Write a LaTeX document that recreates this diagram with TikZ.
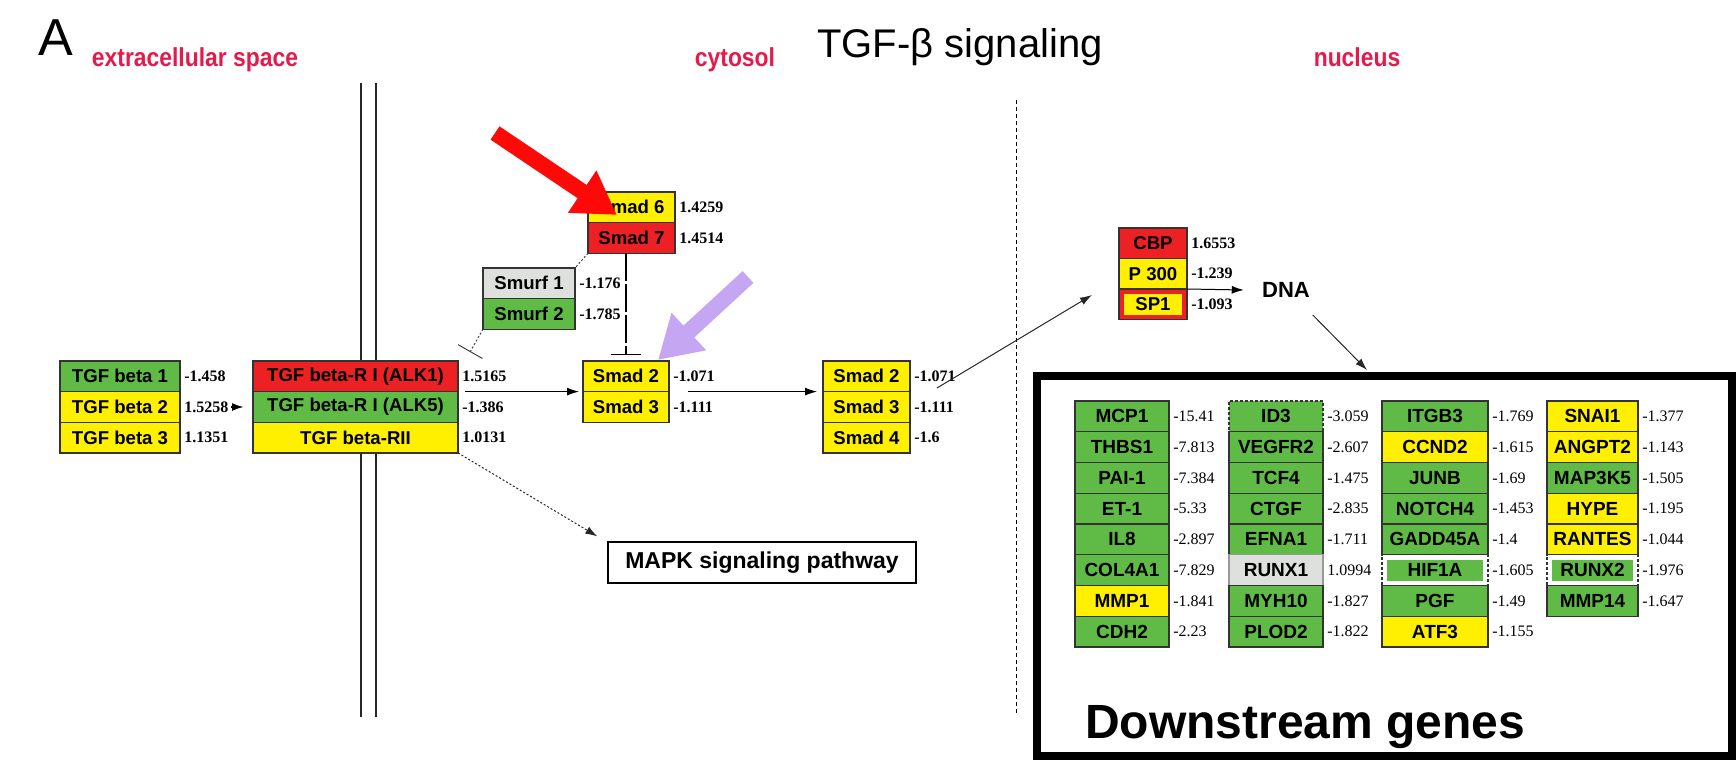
\documentclass[tikz,border=0pt]{standalone}
\usepackage{fontspec}
\setmainfont{Liberation Sans}
\newfontfamily\numfont{Liberation Serif}
\newfontfamily\narrowfont[FakeStretch=0.88]{Liberation Sans}
\usetikzlibrary{arrows.meta}
\definecolor{kgreen}{RGB}{96,187,70}
\definecolor{kyellow}{RGB}{255,240,0}
\definecolor{kred}{RGB}{237,32,36}
\definecolor{kgray}{RGB}{221,224,221}
\definecolor{kcrimson}{RGB}{228,26,74}
\definecolor{kpointer}{RGB}{255,8,8}
\definecolor{klilac}{RGB}{196,166,242}
\tikzset{
  box/.style={draw=black!80, line width=0.7pt, inner sep=0pt, outer sep=0pt, anchor=north west,
    minimum height=15.3pt, font=\fontsize{9.3}{10}\selectfont\bfseries},
  gn/.style={fill=kgreen}, yl/.style={fill=kyellow}, rd/.style={fill=kred}, gy/.style={fill=kgray},
  inset/.style n args={2}{fill=#1, path picture={\fill[#2]
    ([shift={(2.5pt,-2.5pt)}]path picture bounding box.north west) rectangle
    ([shift={(-2.5pt,2.5pt)}]path picture bounding box.south east);}},
  dbox/.style={dash pattern=on 1.5pt off 1pt},
  pval/.style={font=\numfont\bfseries\fontsize{8}{9}\selectfont, inner sep=2pt},
  gval/.style={font=\numfont\fontsize{8}{9}\selectfont, inner sep=2pt},
  gene/.style={box, minimum height=15.4pt, font=\fontsize{9.5}{10}\selectfont\bfseries},
  colA/.style={gene, minimum width=47pt},
  colB/.style={gene, minimum width=47pt},
  colC/.style={gene, minimum width=53pt},
  colD/.style={gene, minimum width=45.5pt},
  region/.style={font=\narrowfont\fontsize{13}{14}\selectfont\bfseries, text=kcrimson, anchor=base},
  arr/.style={-{Latex[length=6pt,width=4pt]}, line width=0.5pt},
  dotline/.style={line width=0.5pt, black!75, dash pattern=on 1pt off 1pt},
  pointer/.style={line width=8pt, -{Triangle[length=21pt,width=24pt]}}
}
\begin{document}
\begin{tikzpicture}[x=0.5pt, y=-0.5pt]
    \useasboundingbox (0,0) rectangle (1736,760);
    % headings
    \node[font=\fontsize{26}{28}\selectfont] (panel) at (56,38) {A};
    \node[region] (extra) at (195,66) {extracellular space};
    \node[region] (cyto) at (735,66) {cytosol};
    \node[region] (nucl) at (1357,66) {nucleus};
    \node[font=\fontsize{20}{22}\selectfont, anchor=base] (title) at (960,57) {TGF-β signaling};
    % membrane and nuclear border
    \draw[line width=0.8pt, black!85] (361,83) -- (361,717);
    \draw[line width=0.8pt, black!85] (376,83) -- (376,717);
    \draw[line width=0.5pt, dash pattern=on 2pt off 1.5pt] (1016,100) -- (1016,714);
    % ligands and receptors
    \node[box, gn, minimum width=60pt, label={[pval]right:-1.458}] (tgf1) at (60,361) {TGF beta 1};
    \node[box, yl, minimum width=60pt, label={[pval]right:1.5258}] (tgf2) at (60,391.7) {TGF beta 2};
    \node[box, yl, minimum width=60pt, label={[pval]right:1.1351}] (tgf3) at (60,422.3) {TGF beta 3};
    \node[box, rd, minimum width=102.5pt, label={[pval]right:1.5165}] (rec1) at (253,361) {TGF beta-R I (ALK1)};
    \node[box, gn, minimum width=102.5pt, label={[pval]right:-1.386}] (rec2) at (253,391.7) {TGF beta-R I (ALK5)};
    \node[box, yl, minimum width=102.5pt, label={[pval]right:1.0131}] (rec3) at (253,422.3) {TGF beta-RII};
    % cytosol
    \node[box, yl, minimum width=43.5pt, label={[pval]right:1.4259}] (smad6) at (588,192) {Smad 6};
    \node[box, rd, minimum width=43.5pt, label={[pval]right:1.4514}] (smad7) at (588,222.6) {Smad 7};
    \node[box, gy, minimum width=46pt, label={[pval]right:-1.176}] (smurf1) at (483,268) {Smurf 1};
    \node[box, gn, minimum width=46pt, label={[pval]right:-1.785}] (smurf2) at (483,298.6) {Smurf 2};
    \node[box, yl, minimum width=43pt, label={[pval]right:-1.071}] (smadA) at (583,361) {Smad 2};
    \node[box, yl, minimum width=43pt, label={[pval]right:-1.111}] (smadB) at (583,391.6) {Smad 3};
    \node[box, yl, minimum width=43.5pt, label={[pval]right:-1.071}] (smadC) at (823,361) {Smad 2};
    \node[box, yl, minimum width=43.5pt, label={[pval]right:-1.111}] (smadD) at (823,391.6) {Smad 3};
    \node[box, yl, minimum width=43.5pt, label={[pval]right:-1.6}] (smadE) at (823,422.2) {Smad 4};
    \node[draw, line width=0.6pt, minimum width=154pt, minimum height=20.5pt, font=\fontsize{11.5}{12}\selectfont\bfseries] (mapk) at (762,562.5) {MAPK signaling pathway};
    % nucleus
    \node[box, rd, minimum width=34pt, label={[pval]right:1.6553}] (cbp) at (1119,228) {CBP};
    \node[box, yl, minimum width=34pt, label={[pval]right:-1.239}] (p300) at (1119,258.5) {P 300};
    \node[box, inset={kred}{kyellow}, minimum width=34pt, label={[pval]right:-1.093}] (sp1) at (1119,289) {SP1};
    \node[font=\fontsize{11}{12}\selectfont\bfseries, inner sep=0pt] (dna) at (1286,290) {DNA};
    % connectors
    \draw[arr, line width=1pt] ([xshift=25.5pt]tgf2.east) -- ([xshift=-4.5pt]rec2.west);
    \draw[arr] ([xshift=3.5pt]rec1.south east) -- ([xshift=-2pt]smadA.south west);
    \draw[arr] ([xshift=9.5pt]smadA.south east) -- ([xshift=-3pt]smadC.south west);
    \draw[arr, black!85] ([shift={(13.5pt,1.8pt)}]smadC.south east) -- ([shift={(-13.5pt,-3pt)}]sp1.north west);
    \draw[arr] (sp1.north east) -- ([xshift=-9pt]dna.west);
    \draw[line width=0.7pt, dash pattern=on 14pt off 1.5pt, -{Bar[width=15pt]}, shorten >=3pt] (smadA.north |- smad7.south) -- (smadA.north);
    \draw[dotline] (smad7.south west) -- (smurf1.north east);
    \draw[dotline, -{Bar[width=14pt]}] (smurf2.south west) -- ([shift={(6pt,4.5pt)}]rec1.north east);
    \draw[arr, dotline, black!85] (rec3.south east) -- ([shift={(-5pt,2.5pt)}]mapk.north west);
    % downstream genes
    \node[draw, line width=4pt, minimum width=347.5pt, minimum height=190pt, inner sep=0pt, outer sep=0pt] (genes) at (1384.5,566) {};
    \draw[arr, black!85] ([shift={(1.25pt,-8.5pt)}]dna.south east) -- ([shift={(-8.75pt,3pt)}]genes.north);
    \node[font=\fontsize{24}{26}\selectfont\bfseries, anchor=base west] (genestitle) at (1078,738) {Downstream genes};
    \node[colA, gn, label={[gval]right:-15.41}] (mcp1) at (1075,401) {MCP1};
    \node[colA, gn, label={[gval]right:-7.813}] (thbs1) at (1075,431.75) {THBS1};
    \node[colA, gn, label={[gval]right:-7.384}] (pai1) at (1075,462.5) {PAI-1};
    \node[colA, gn, label={[gval]right:-5.33}] (et1) at (1075,493.25) {ET-1};
    \node[colA, gn, label={[gval]right:-2.897}] (il8) at (1075,524) {IL8};
    \node[colA, gn, label={[gval]right:-7.829}] (col4a1) at (1075,554.75) {COL4A1};
    \node[colA, yl, label={[gval]right:-1.841}] (mmp1) at (1075,585.5) {MMP1};
    \node[colA, gn, label={[gval]right:-2.23}] (cdh2) at (1075,616.25) {CDH2};
    \node[colB, gn, dbox, label={[gval]right:-3.059}] (id3) at (1229,401) {ID3};
    \node[colB, gn, label={[gval]right:-2.607}] (vegfr2) at (1229,431.75) {VEGFR2};
    \node[colB, gn, label={[gval]right:-1.475}] (tcf4) at (1229,462.5) {TCF4};
    \node[colB, gn, label={[gval]right:-2.835}] (ctgf) at (1229,493.25) {CTGF};
    \node[colB, gn, label={[gval]right:-1.711}] (efna1) at (1229,524) {EFNA1};
    \node[colB, gy, draw=black!40, label={[gval]right:1.0994}] (runx1) at (1229,554.75) {RUNX1};
    \node[colB, gn, label={[gval]right:-1.827}] (myh10) at (1229,585.5) {MYH10};
    \node[colB, gn, label={[gval]right:-1.822}] (plod2) at (1229,616.25) {PLOD2};
    \node[colC, gn, label={[gval]right:-1.769}] (itgb3) at (1382,401) {ITGB3};
    \node[colC, yl, label={[gval]right:-1.615}] (ccnd2) at (1382,431.75) {CCND2};
    \node[colC, gn, label={[gval]right:-1.69}] (junb) at (1382,462.5) {JUNB};
    \node[colC, gn, label={[gval]right:-1.453}] (notch4) at (1382,493.25) {NOTCH4};
    \node[colC, gn, label={[gval]right:-1.4}] (gadd45a) at (1382,524) {GADD45A};
    \node[colC, dbox, inset={white}{kgreen}, label={[gval]right:-1.605}] (hif1a) at (1382,554.75) {HIF1A};
    \node[colC, gn, label={[gval]right:-1.49}] (pgf) at (1382,585.5) {PGF};
    \node[colC, yl, label={[gval]right:-1.155}] (atf3) at (1382,616.25) {ATF3};
    \node[colD, yl, label={[gval]right:-1.377}] (snai1) at (1547,401) {SNAI1};
    \node[colD, yl, label={[gval]right:-1.143}] (angpt2) at (1547,431.75) {ANGPT2};
    \node[colD, gn, label={[gval]right:-1.505}] (map3k5) at (1547,462.5) {MAP3K5};
    \node[colD, yl, label={[gval]right:-1.195}] (hype) at (1547,493.25) {HYPE};
    \node[colD, yl, label={[gval]right:-1.044}] (rantes) at (1547,524) {RANTES};
    \node[colD, dbox, inset={white}{kgreen}, label={[gval]right:-1.976}] (runx2) at (1547,554.75) {RUNX2};
    \node[colD, gn, label={[gval]right:-1.647}] (mmp14) at (1547,585.5) {MMP14};
    % highlight arrows
    \coordinate (redtail) at (495,133);
    \coordinate (lilactail) at (748,277);
    \draw[pointer, kpointer] (redtail) -- ([shift={(14.5pt,-11.5pt)}]smad6.north west);
    \draw[pointer, klilac] (lilactail) -- ([shift={(-5.5pt,0.5pt)}]smadA.north east);
\end{tikzpicture}
\end{document}
